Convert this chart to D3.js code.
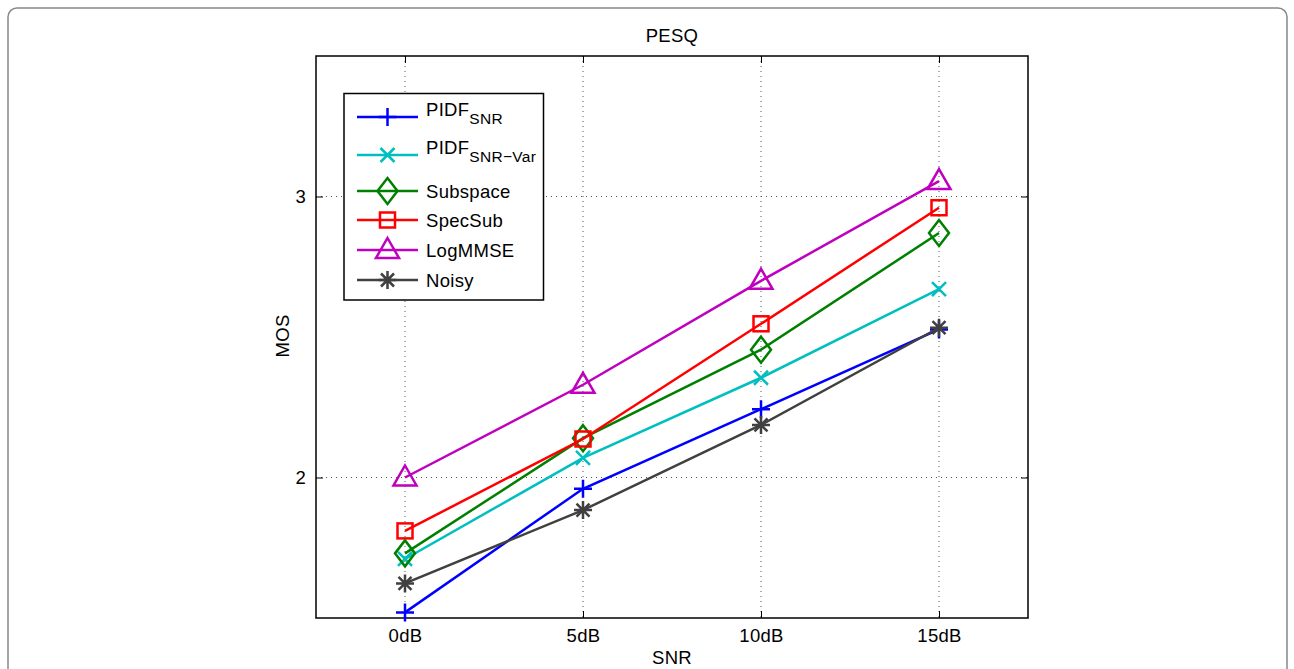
<!DOCTYPE html>
<html><head><meta charset="utf-8">
<script src="https://cdn.jsdelivr.net/npm/d3@7/dist/d3.min.js"></script>
<style>body{margin:0;background:#fff}svg{display:block}text{font-family:"Liberation Sans",Arial,sans-serif;letter-spacing:0.3px}</style>
</head><body><svg id="c" width="1294" height="669"></svg>
<script>
const categories = ["0dB","5dB","10dB","15dB"];
const yTicks = [2,3];
const seriesNames = ["PIDF_SNR","PIDF_SNR-Var","Subspace","SpecSub","LogMMSE","Noisy"];
const pidfSnr    = [1.52, 1.96, 2.243, 2.527];
const pidfSnrVar = [1.71, 2.07, 2.355, 2.67];
const subspace   = [1.73, 2.14, 2.455, 2.87];
const specSub    = [1.81, 2.137, 2.547, 2.96];
const logMMSE    = [2.00, 2.33, 2.70, 3.055];
const noisy      = [1.623, 1.884, 2.187, 2.533];

const series = [
  {name:"PIDF", sub:"SNR", vals:pidfSnr, color:"#0000ff", marker:"plus"},
  {name:"PIDF", sub:"SNR\u2212Var", vals:pidfSnrVar, color:"#00bfbf", marker:"x"},
  {name:"Subspace", vals:subspace, color:"#008000", marker:"diamond"},
  {name:"SpecSub", vals:specSub, color:"#ff0000", marker:"square"},
  {name:"LogMMSE", vals:logMMSE, color:"#bf00bf", marker:"triangle"},
  {name:"Noisy", vals:noisy, color:"#404040", marker:"star"}
];

const FS = 18.5;
const svg = d3.select("#c");
svg.append("rect").attr("x",8).attr("y",8).attr("width",1279).attr("height",700).attr("rx",9)
  .attr("fill","none").attr("stroke","#888").attr("stroke-width",1.5);

const L=316, R=1028, T=56, B=618;
const x = d3.scaleLinear().domain([-0.5,3.5]).range([L,R]);
const y = d3.scaleLinear().domain([1.5,3.5]).range([B,T]);
const g = svg.append("g");

categories.forEach((c,i)=>{
  g.append("line").attr("x1",x(i)).attr("x2",x(i)).attr("y1",T).attr("y2",B)
   .attr("stroke","#555").attr("stroke-width",1).attr("stroke-dasharray","1,4");
});
yTicks.forEach(v=>{
  g.append("line").attr("x1",L).attr("x2",R).attr("y1",y(v)).attr("y2",y(v))
   .attr("stroke","#555").attr("stroke-width",1).attr("stroke-dasharray","1,4");
});

const xAxis = d3.axisBottom(x).tickValues(d3.range(categories.length)).tickFormat(i=>categories[i]).tickSizeInner(-7).tickSizeOuter(0);
const yAxis = d3.axisLeft(y).tickValues(yTicks).tickFormat(d3.format("d")).tickSizeInner(-7).tickSizeOuter(0);
const ax = g.append("g").attr("transform",`translate(0,${B})`).call(xAxis);
const ay = g.append("g").attr("transform",`translate(${L},0)`).call(yAxis);
const axT = g.append("g").attr("transform",`translate(0,${T})`).call(d3.axisTop(x).tickValues(d3.range(categories.length)).tickFormat("").tickSizeInner(-7).tickSizeOuter(0));
const ayR = g.append("g").attr("transform",`translate(${R},0)`).call(d3.axisRight(y).tickValues(yTicks).tickFormat("").tickSizeInner(-7).tickSizeOuter(0));
[ax,ay,axT,ayR].forEach(a=>{a.select(".domain").remove(); a.selectAll("line").attr("stroke","#000");
  a.selectAll("text").attr("font-size",FS).attr("fill","#000").attr("font-family","'Liberation Sans',Arial,sans-serif");});
ax.selectAll("text").attr("y",24).attr("dy","0");
ay.selectAll("text").attr("x",-10).attr("dy","0.32em");
g.append("rect").attr("x",L).attr("y",T).attr("width",R-L).attr("height",B-T).attr("fill","none").attr("stroke","#000").attr("stroke-width",1.5);

svg.append("text").attr("x",(L+R)/2).attr("y",41.5).attr("text-anchor","middle").attr("font-size",FS).text("PESQ");
svg.append("text").attr("x",(L+R)/2).attr("y",664).attr("text-anchor","middle").attr("font-size",FS).text("SNR");
svg.append("text").attr("transform",`translate(289,336) rotate(-90)`).attr("text-anchor","middle").attr("font-size",FS).text("MOS");

function drawMarker(sel, type, cx, cy, color){
  const s = sel.append("g").attr("transform",`translate(${cx},${cy})`).attr("stroke",color).attr("stroke-width",2.5).attr("fill","none");
  if(type==="plus"){ s.append("path").attr("d","M-9,0H9M0,-9V9"); }
  else if(type==="x"){ s.append("path").attr("d","M-7,-7L7,7M-7,7L7,-7"); }
  else if(type==="diamond"){ s.append("path").attr("d","M0,-13L10,0L0,13L-10,0Z"); }
  else if(type==="square"){ s.append("rect").attr("x",-7.5).attr("y",-7.5).attr("width",15).attr("height",15); }
  else if(type==="triangle"){ s.append("path").attr("d","M0,-12L11.5,8L-11.5,8Z"); }
  else if(type==="star"){ s.append("path").attr("d","M-9,0H9M0,-9V9M-6.5,-6.5L6.5,6.5M-6.5,6.5L6.5,-6.5"); }
}

const line = d3.line().x((d,i)=>x(i)).y(d=>y(d));
series.forEach(s=>{
  g.append("path").datum(s.vals).attr("d",line).attr("fill","none").attr("stroke",s.color).attr("stroke-width",2.5);
  s.vals.forEach((v,i)=>drawMarker(g, s.marker, x(i), y(v), s.color));
});

const lg = svg.append("g");
lg.append("rect").attr("x",344).attr("y",93.5).attr("width",199.5).attr("height",206.5).attr("fill","#fff").attr("stroke","#000").attr("stroke-width",1.5);
const rowY = [117,155,191,220,250,280];
series.forEach((s,i)=>{
  const yy = rowY[i];
  lg.append("line").attr("x1",357).attr("x2",418).attr("y1",yy).attr("y2",yy).attr("stroke",s.color).attr("stroke-width",2.5);
  drawMarker(lg, s.marker, 387.5, yy, s.color);
  const t = lg.append("text").attr("x",426).attr("y",s.sub? yy-1.5 : yy+6.5).attr("font-size",FS).text(s.name);
  if(s.sub){ t.append("tspan").attr("dy",8.5).attr("font-size",15.5).text(s.sub); }
});
</script></body></html>
